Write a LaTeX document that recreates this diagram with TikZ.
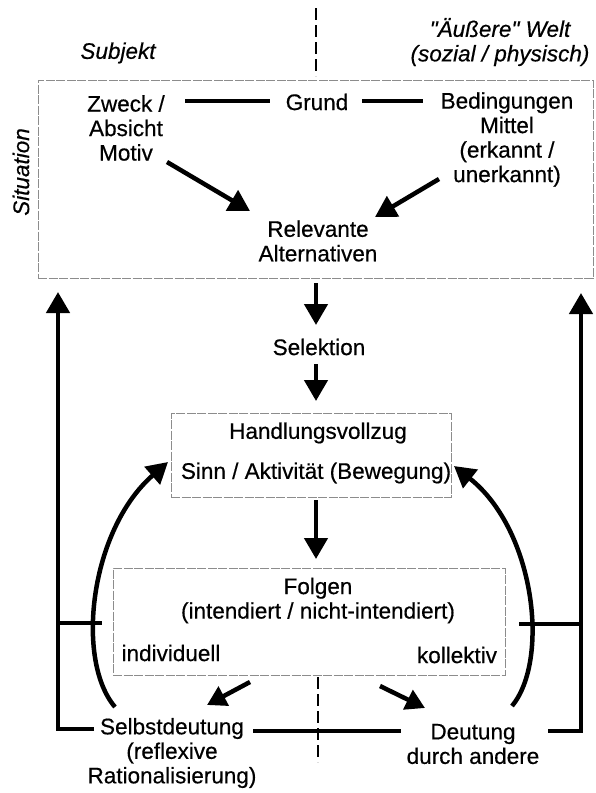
\documentclass[tikz,border=0pt]{standalone}
\usepackage{fontspec}
\setmainfont{Liberation Sans}[Ligatures=TeXOff, FakeBold=0.5]
\usetikzlibrary{arrows.meta}
\begin{document}
\begin{tikzpicture}[x=1pt,y=-1pt,
  lbl/.style={font=\fontsize{22.5}{24.5}\selectfont, align=center, inner sep=0pt},
  ital/.style={font=\fontsize{22.5}{24.5}\selectfont\itshape, align=center, inner sep=0pt},
  frame/.style={draw=black!45, line width=0.8pt, dash pattern=on 9pt off 1.5pt, inner sep=0pt},
  bar/.style={line width=4.5pt},
  arr/.style={line width=4.5pt, -{Triangle[length=21pt,width=23pt]}},
  sarr/.style={line width=4.5pt, -{Triangle[length=19pt,width=21pt]}},
  divider/.style={line width=2.5pt, dash pattern=on 12pt off 5pt}]

\useasboundingbox (0,0) rectangle (595,793);

% frames
\node[frame, minimum width=555pt, minimum height=198pt] (sitbox) at (315.5,179) {};
\node[frame, minimum width=280pt, minimum height=84pt] (hvbox) at (311,455) {};
\node[frame, minimum width=392pt, minimum height=107pt] (folbox) at (309,621.5) {};

% headings
\node[ital] (subj) at (118,53) {Subjekt};
\node[ital] (welt) at (500,42) {"Äußere" Welt\\(sozial / physisch)};
\node[ital, rotate=90] (sit) at (21,172) {Situation};

% top box contents
\node[lbl] (zweck) at (126,128) {Zweck /\\Absicht\\Motiv};
\node[lbl] (grund) at (317,102) {Grund};
\node[lbl] (bed) at (507,139.5) {Bedingungen\\Mittel\\(erkannt /\\unerkannt)};
\node[lbl] (relev) at (318,241) {Relevante\\Alternativen};

\node[lbl] (sel) at (319,347) {Selektion};
\node[lbl] (hv) at (318,433) {Handlungsvollzug};
\node[lbl] (sinn) at (316,473) {Sinn / Aktivität (Bewegung)};
\node[lbl] (folgen) at (318,600.5) {Folgen\\(intendiert / nicht-intendiert)};
\node[lbl] (indiv) at (171,653) {individuell};
\node[lbl] (koll) at (457,655) {kollektiv};
\node[lbl] (selbst) at (172,753) {Selbstdeutung\\(reflexive\\Rationalisierung)};
\node[lbl] (deut) at (473,744) {Deutung\\durch andere};

% dividers
\coordinate (dtA) at (316,8);
\coordinate (dtB) at (316,76);
\draw[divider] (dtA) -- (dtB);
\coordinate (dbA) at (318,677);
\coordinate (dbB) at (318,762);
\draw[divider] (dbA) -- (dbB);

% Grund lines
\coordinate (g1) at (185,101);
\coordinate (g2) at (270,101);
\coordinate (g3) at (362,101);
\coordinate (g4) at (423,101);
\draw[bar] (g1) -- (g2);
\draw[bar] (g3) -- (g4);

% arrows to relevant alternatives
\coordinate (za) at (167,162);
\coordinate (zb) at (250,211);
\draw[arr] (za) -- (zb);
\coordinate (ba) at (439,179);
\coordinate (bb) at (375,217);
\draw[arr] (ba) -- (bb);

% vertical flow
\coordinate (v1a) at (316,283);
\coordinate (v1b) at (316,325);
\draw[arr] (v1a) -- (v1b);
\coordinate (v2a) at (316,364);
\coordinate (v2b) at (316,401);
\draw[arr] (v2a) -- (v2b);
\coordinate (v3a) at (316,500);
\coordinate (v3b) at (316,559);
\draw[arr] (v3a) -- (v3b);

% small arrows from Folgen
\coordinate (sa1) at (250,682);
\coordinate (sa2) at (207,705);
\draw[sarr] (sa1) -- (sa2);
\coordinate (sb1) at (380,686);
\coordinate (sb2) at (425,708);
\draw[sarr] (sb1) -- (sb2);

% horizontal link between interpretations
\coordinate (h1) at (253,731);
\coordinate (h2) at (401,731);
\draw[bar] (h1) -- (h2);

% outer feedback brackets
\coordinate (lb1) at (94,729);
\coordinate (lb2) at (58,729);
\coordinate (lb3) at (58,292);
\draw[arr, line join=miter] (lb1) -- (lb2) -- (lb3);
\coordinate (rb1) at (548,731);
\coordinate (rb2) at (581,731);
\coordinate (rb3) at (581,293);
\draw[arr, line join=miter] (rb1) -- (rb2) -- (rb3);

% ticks
\coordinate (lt1) at (58,623);
\coordinate (lt2) at (102,623);
\draw[bar] (lt1) -- (lt2);
\coordinate (rt1) at (519,624);
\coordinate (rt2) at (581,624);
\draw[bar] (rt1) -- (rt2);

% curved arrows back to Handlungsvollzug
\coordinate (cl1) at (115,707);
\coordinate (cl2) at (168,462);
\draw[arr] (cl1) .. controls (75,660) and (90,530) .. (cl2);
\coordinate (cr1) at (512,706);
\coordinate (cr2) at (454,466);
\draw[arr] (cr1) .. controls (550,660) and (535,530) .. (cr2);

\end{tikzpicture}
\end{document}
